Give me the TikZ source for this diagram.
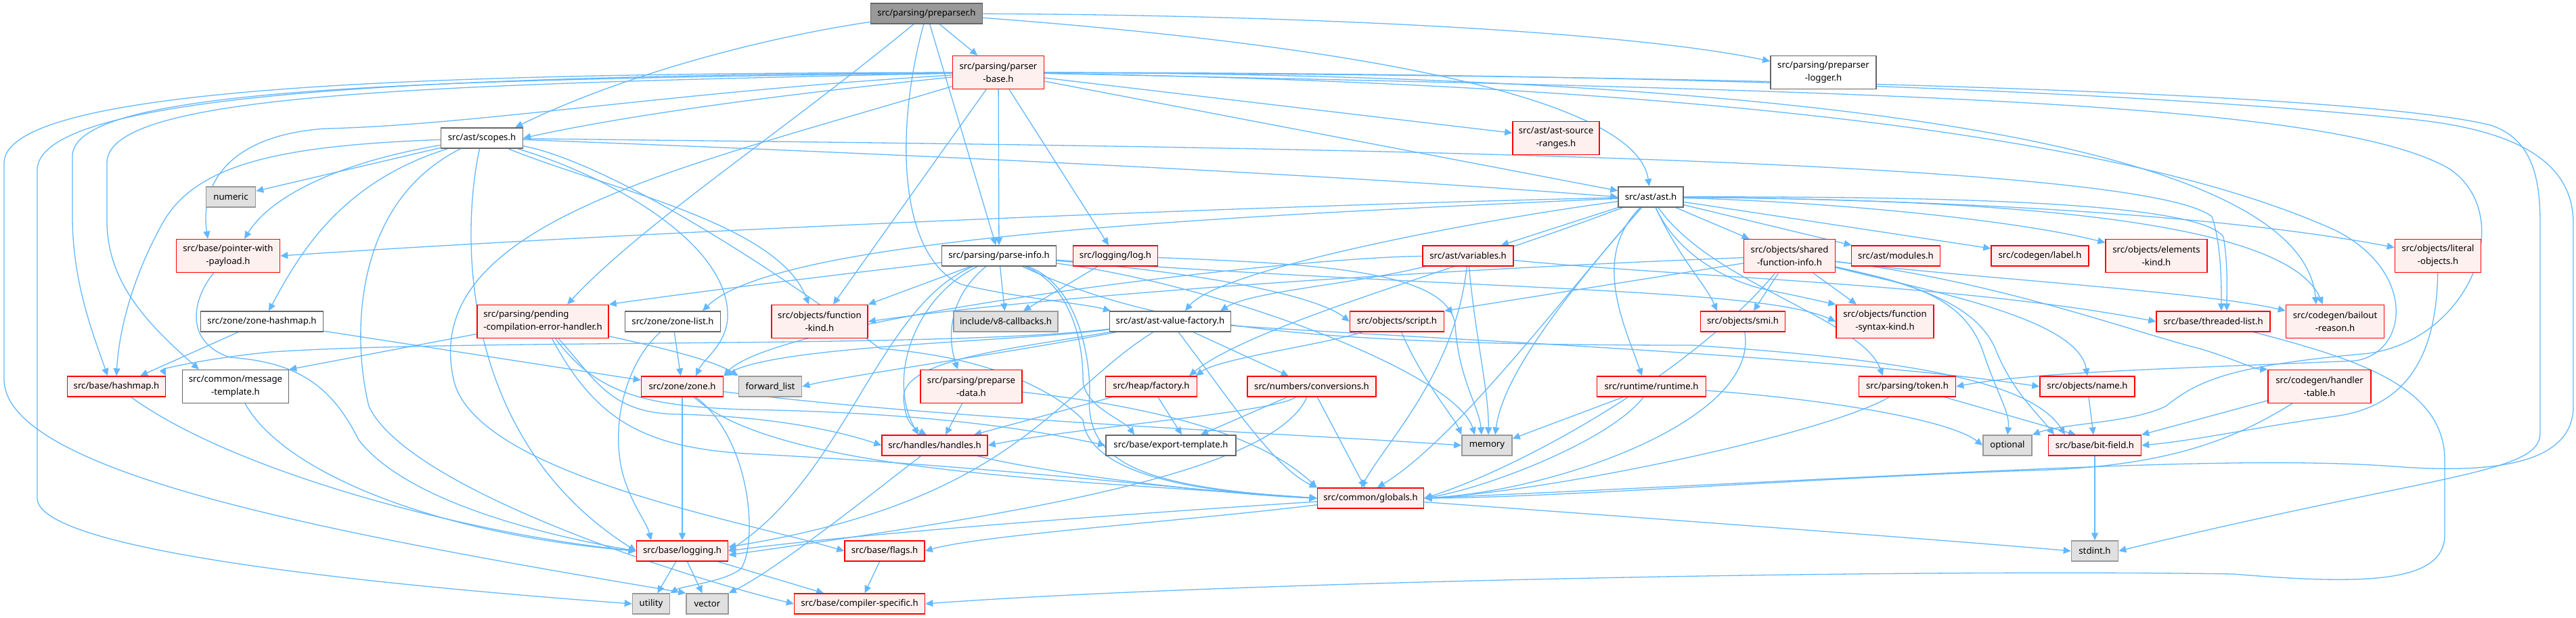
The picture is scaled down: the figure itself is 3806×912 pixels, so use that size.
\documentclass[tikz,border=0pt]{standalone}
\usepackage{fontspec}
\setmainfont{Noto Sans}
\usetikzlibrary{arrows.meta}
\definecolor{edgec}{HTML}{63B8FF}
\definecolor{redb}{HTML}{FF0000}
\definecolor{redf}{HTML}{FFF0F0}
\definecolor{grb}{HTML}{999999}
\definecolor{grf}{HTML}{E0E0E0}
\definecolor{wb}{HTML}{666666}
\pgfdeclarelayer{back}
\pgfdeclarelayer{bg}
\pgfsetlayers{back,bg,main}
\begin{document}
\begin{tikzpicture}[x=0.5pt,y=-0.5pt,
 nd/.style={rectangle, inner sep=0pt, line width=0.75pt, font=\fontsize{6.6pt}{9.5pt}\selectfont, align=center, minimum height=15pt},
 two/.style={minimum height=24.5pt},
 W/.style={minimum width=#1*0.5pt},
 rednode/.style={nd, draw=redb, fill=redf},
 whitenode/.style={nd, draw=wb, fill=white},
 graynode/.style={nd, draw=grb, fill=grf},
 rootnode/.style={nd, draw=wb, fill=grb},
 arr/.style={draw=edgec, line width=0.65pt, -{Triangle[length=5.5pt,width=5pt]}}
]
\useasboundingbox (0,0) rectangle (3806,912);
\begin{pgfonlayer}{back}
\fill[white] (0,0) rectangle (3806,912);
\end{pgfonlayer}

% nodes
\node[rootnode,W=165] (pre) at (1369,20) {src/parsing/preparser.h};
\node[rednode,two,W=135] (pb) at (1475,107) {src/parsing/parser\\-base.h};
\node[whitenode,two,W=156] (plog) at (2694,107) {src/parsing/preparser\\-logger.h};
\node[whitenode,W=121] (scopes) at (712,204) {src/ast/scopes.h};
\node[rednode,two,W=128] (asr) at (2299,204) {src/ast/ast-source\\-ranges.h};
\node[whitenode,W=96] (ast) at (2439,291) {src/ast/ast.h};
\node[graynode,W=73] (numeric) at (341,291) {numeric};
\node[rednode,two,W=153] (pwp) at (337,378) {src/base/pointer-with\\-payload.h};
\node[whitenode,W=169] (pinfo) at (1476,378) {src/parsing/parse-info.h};
\node[rednode,W=125] (log) at (1648,378) {src/logging/log.h};
\node[rednode,W=134] (vars) at (2169,378) {src/ast/variables.h};
\node[rednode,two,W=135] (sfi) at (2644,378) {src/objects/shared\\-function-info.h};
\node[rednode,W=131] (modules) at (2801,378) {src/ast/modules.h};
\node[rednode,W=144] (label) at (3014,378) {src/codegen/label.h};
\node[rednode,two,W=150] (elements) at (3186,378) {src/objects/elements\\-kind.h};
\node[rednode,two,W=127] (literal) at (3602,378) {src/objects/literal\\-objects.h};
\node[whitenode,W=181] (zhm) at (387,475) {src/zone/zone-hashmap.h};
\node[rednode,two,W=194,align=left] (pending) at (802,475) {src/parsing/pending\\-compilation-error-handler.h};
\node[whitenode,W=141] (zlist) at (994,475) {src/zone/zone-list.h};
\node[rednode,two,W=142] (fkind) at (1211,475) {src/objects/function\\-kind.h};
\node[graynode,W=154] (v8cb) at (1486,475) {include/v8-callbacks.h};
\node[whitenode,W=179] (avf) at (1729,475) {src/ast/ast-value-factory.h};
\node[rednode,W=139] (script) at (2064,475) {src/objects/script.h};
\node[rednode,W=125] (smi) at (2575,475) {src/objects/smi.h};
\node[rednode,two,W=144] (fsk) at (2785,475) {src/objects/function\\-syntax-kind.h};
\node[rednode,W=168] (tlist) at (3270,475) {src/base/threaded-list.h};
\node[rednode,two,W=145] (bailout) at (3450,475) {src/codegen/bailout\\-reason.h};
\node[rednode,W=145] (hashmap) at (172,571) {src/base/hashmap.h};
\node[whitenode,two,W=157] (msgt) at (348,571) {src/common/message\\-template.h};
\node[rednode,W=121] (zone) at (1008,571) {src/zone/zone.h};
\node[graynode,W=93] (fwdlist) at (1138,571) {forward\_list};
\node[rednode,two,W=150] (ppd) at (1435,571) {src/parsing/preparse\\-data.h};
\node[rednode,W=135] (factory) at (1701,571) {src/heap/factory.h};
\node[rednode,W=190] (conv) at (1938,571) {src/numbers/conversions.h};
\node[rednode,W=161] (runtime) at (2440,571) {src/runtime/runtime.h};
\node[rednode,W=143] (token) at (2818,571) {src/parsing/token.h};
\node[rednode,W=140] (name) at (3084,571) {src/objects/name.h};
\node[rednode,two,W=152] (htable) at (3427,571) {src/codegen/handler\\-table.h};
\node[rednode,W=156] (handles) at (1381,658) {src/handles/handles.h};
\node[whitenode,W=192] (expt) at (1730,658) {src/base/export-template.h};
\node[graynode,W=74] (memory) at (2197,658) {memory};
\node[graynode,W=72] (optional) at (2966,658) {optional};
\node[rednode,W=137] (bitfield) at (3095,658) {src/base/bit-field.h};
\node[rednode,W=157] (globals) at (2025,736) {src/common/globals.h};
\node[rednode,W=135] (logging) at (1008,814) {src/base/logging.h};
\node[rednode,W=118] (flags) at (1307,814) {src/base/flags.h};
\node[graynode,W=69] (stdint) at (3095,814) {stdint.h};
\node[graynode,W=55] (utility) at (962,892) {utility};
\node[graynode,W=62] (vector) at (1045,892) {vector};
\node[rednode,W=193] (cspec) at (1270,892) {src/base/compiler-specific.h};

\begin{pgfonlayer}{bg}
% preparser.h
\draw[arr] (pre) -- (pb);
\draw[arr] (pre) .. controls (1100,60) and (900,120) .. ([xshift=-6pt]scopes.north east);
\draw[arr] (pre) .. controls (1900,22) and (2400,45) .. (plog);
\draw[arr] (pre) .. controls (2100,75) and (2420,160) .. (ast);
\draw[arr] (pre) .. controls (1150,200) and (950,330) .. ([xshift=18pt]pending.north);
\draw[arr] (pre) -- (pinfo);
\draw[arr] (pre) .. controls (1320,200) and (1330,380) .. (1420,420) .. controls (1500,440) and (1600,448) .. ([xshift=-44pt]avf.north);
% parser-base.h
\draw[arr] (pb) .. controls (1200,135) and (950,165) .. (scopes.east);
\draw[arr] (pb) -- (asr);
\draw[arr] (pb) -- (ast);
\draw[arr] (pb) -- (pinfo);
\draw[arr] (pb) -- (log);
\draw[arr] (pb) -- ([xshift=10pt]fkind.north);
\draw[arr] (pb) .. controls (1000,135) and (700,185) .. (480,190) .. controls (340,200) and (295,270) .. ([xshift=-15pt]pwp.north);
\draw[arr] (pb) .. controls (600,118) and (110,130) .. (107,230) -- (107,320) .. controls (107,420) and (140,500) .. ([xshift=-6.5pt]hashmap.north);
\draw[arr] (pb) .. controls (600,125) and (160,140) .. (158,240) -- (158,330) .. controls (160,420) and (220,480) .. ([xshift=-27pt]msgt.north);
\draw[arr] (pb) .. controls (600,112) and (60,140) .. (55,250) -- (55,737) .. controls (60,810) and (500,860) .. (utility.west);
\draw[arr] (pb) .. controls (600,108) and (10,130) .. (6,240) -- (6,560) .. controls (6,700) and (500,790) .. (vector.north west);
\draw[arr] (pb) .. controls (1000,250) and (620,330) .. (670,560) .. controls (700,700) and (1100,770) .. (flags.west);
\draw[arr] (pb) .. controls (2600,110) and (3400,200) .. ([xshift=-14pt]bailout.north);
\draw[arr] (pb) .. controls (2800,130) and (3250,250) .. (3450,340) .. controls (3570,400) and (3560,520) .. (3480,533) .. controls (3200,545) and (3000,550) .. (token.east);
\draw[arr] (pb) .. controls (2800,135) and (3450,150) .. (3620,250) .. controls (3720,320) and (3650,500) .. (3500,522) .. controls (3300,540) and (3250,560) .. (3200,600) .. controls (3150,625) and (3050,625) .. (optional.north east);
\draw[arr] (pb) .. controls (2700,112) and (3500,140) .. (3680,185) .. controls (3740,205) and (3753,260) .. (3753,330) -- (3753,640) .. controls (3753,700) and (3600,700) .. (stdint.east);
\draw[arr] (pb) .. controls (2700,108) and (3300,150) .. (3550,175) .. controls (3720,190) and (3802,240) .. (3802,330) -- (3802,600) .. controls (3802,680) and (3700,700) .. (3550,690) .. controls (3300,670) and (2900,700) .. (globals.east);
% scopes.h
\draw[arr] (scopes) -- (numeric);
\draw[arr] (scopes) .. controls (1400,230) and (2000,260) .. (ast.west);
\draw[arr] (scopes) .. controls (420,215) and (290,240) .. (240,330) .. controls (190,420) and (175,500) .. (hashmap.north);
\draw[arr] (scopes) .. controls (500,240) and (400,290) .. ([xshift=12pt]pwp.north);
\draw[arr] (scopes) .. controls (500,270) and (440,380) .. ([xshift=5pt]zhm.north);
\draw[arr] (scopes) .. controls (900,280) and (1150,330) .. ([xshift=-8pt]fkind.north);
\draw[arr] (scopes) .. controls (900,260) and (1080,360) .. (1075,470) .. controls (1072,510) and (1040,530) .. ([xshift=10pt]zone.north);
\draw[arr] (scopes) .. controls (900,240) and (1150,400) .. (1300,515) .. controls (1500,530) and (1580,600) .. (1600,620) .. controls (1610,720) and (1850,730) .. (globals.west);
\draw[arr] (scopes) .. controls (1600,215) and (3150,225) .. (3268,320) .. controls (3282,360) and (3282,420) .. ([xshift=6pt]tlist.north);
\draw[arr] (scopes) .. controls (520,300) and (520,500) .. (545,600) .. controls (600,720) and (1000,850) .. (cspec.west);
\draw[arr] (scopes) .. controls (680,350) and (680,650) .. (logging.west);
% ast.h
\draw[arr] (ast) .. controls (1800,305) and (900,345) .. (pwp.east);
\draw[arr] (ast) .. controls (1800,320) and (1150,350) .. ([xshift=22pt]zlist.north);
\draw[arr] (ast) .. controls (2150,330) and (1800,400) .. ([xshift=11pt]avf.north);
\draw[arr] (ast) -- (vars);
\draw[arr] (ast) -- (sfi);
\draw[arr] (ast) -- (modules);
\draw[arr] (ast) -- (label);
\draw[arr] (ast) .. controls (2750,300) and (3000,330) .. (elements);
\draw[arr] (ast) .. controls (2900,295) and (3300,320) .. (literal);
\draw[arr] (ast) .. controls (2900,290) and (3250,300) .. (3285,350) .. controls (3292,390) and (3290,430) .. ([xshift=10pt]tlist.north);
\draw[arr] (ast) .. controls (3000,295) and (3380,330) .. ([xshift=-9pt]bailout.north);
\draw[arr] (ast) .. controls (2480,380) and (2560,420) .. (2620,430) .. controls (2660,438) and (2690,445) .. (fsk.north west);
\draw[arr] (ast) .. controls (2480,380) and (2520,420) .. ([xshift=-19pt]smi.north);
\draw[arr] (ast) .. controls (2350,380) and (2400,480) .. ([xshift=-7pt]runtime.north);
\draw[arr] (ast) .. controls (2530,420) and (2750,470) .. ([xshift=-18pt]token.north);
\draw[arr] (ast) .. controls (2300,450) and (2150,650) .. ([xshift=5pt]globals.north);
\draw[arr] (ast) .. controls (2300,450) and (2220,560) .. ([xshift=6pt]memory.north);
\draw[arr] (ast) .. controls (2150,400) and (1850,480) .. ([xshift=28pt]factory.north);
% variables.h
\draw[arr] (vars) .. controls (2000,420) and (1850,430) .. ([xshift=37pt]avf.north);
\draw[arr] (vars) .. controls (2150,550) and (2050,650) .. ([xshift=-7pt]globals.north);
\draw[arr] (vars) .. controls (1900,380) and (1150,470) .. (zone.north east);
\draw[arr] (vars) .. controls (2500,410) and (2900,420) .. (tlist.west);
\draw[arr] (vars) .. controls (2180,500) and (2200,580) .. ([xshift=1pt]memory.north);
% parse-info.h
\draw[arr] (pinfo) -- (v8cb);
\draw[arr] (pinfo) -- (fkind.north east);
\draw[arr] (pinfo) .. controls (1200,410) and (1000,435) .. (pending.north east);
\draw[arr] (pinfo) .. controls (1400,440) and (1400,500) .. ([xshift=-10pt]ppd.north);
\draw[arr] (pinfo) .. controls (1350,440) and (1310,560) .. ([xshift=-12pt]handles.north);
\draw[arr] (pinfo) .. controls (1800,405) and (1950,440) .. (script.west);
\draw[arr] (pinfo) .. controls (2200,430) and (2600,425) .. (fsk.west);
\draw[arr] (pinfo) .. controls (1700,480) and (1900,510) .. (2500,510) .. controls (2800,530) and (3000,560) .. ([xshift=-22pt]bitfield.north);
\draw[arr] (pinfo) .. controls (1580,420) and (1600,500) .. (1600,560) .. controls (1600,600) and (1660,620) .. ([xshift=-27pt]expt.north);
\draw[arr] (pinfo) .. controls (1300,450) and (1250,700) .. (logging.east);
\draw[arr] (pinfo) .. controls (1590,420) and (1610,520) .. (1610,580) .. controls (1600,690) and (1700,720) .. (globals.west);
\draw[arr] (pinfo) .. controls (1800,420) and (2150,550) .. ([xshift=-9pt]memory.north);
% log.h
\draw[arr] (log) -- ([xshift=13pt]v8cb.north);
\draw[arr] (log) .. controls (1950,390) and (2140,400) .. (2150,480) .. controls (2155,560) and (2185,600) .. ([xshift=-4pt]memory.north);
% pending
\draw[arr] (pending) -- (msgt.north east);
\draw[arr] (pending) .. controls (960,510) and (1050,530) .. (fwdlist.north west);
\draw[arr] (pending) .. controls (880,560) and (900,610) .. (1000,612) .. controls (1150,615) and (1250,640) .. (handles.west);
\draw[arr] (pending) .. controls (880,580) and (950,600) .. (1100,605) .. controls (1400,610) and (1550,640) .. (expt.west);
\draw[arr] (pending) .. controls (880,620) and (950,660) .. (1100,670) .. controls (1500,690) and (1800,730) .. (globals.west);
% zone-hashmap, zone-list
\draw[arr] (zhm) -- (hashmap);
\draw[arr] (zhm) -- (zone);
\draw[arr] (zlist) -- (zone);
\draw[arr] (zlist) .. controls (930,530) and (900,620) .. (920,700) .. controls (935,750) and (955,770) .. ([xshift=-23pt]logging.north);
% zone.h
\draw[arr] (zone) -- (logging);
\draw[arr] (zone) .. controls (1110,650) and (1120,800) .. (1095,840) .. controls (1070,860) and (1010,865) .. (utility.north east);
\draw[arr] (zone) .. controls (1400,620) and (1900,640) .. (memory.west);
\draw[arr] (zone) .. controls (1150,700) and (1600,710) .. (globals.west);
% hashmap, pointer-with-payload, message-template
\draw[arr] (hashmap) .. controls (350,700) and (700,790) .. (logging.west);
\draw[arr] (pwp) .. controls (285,440) and (270,505) .. (340,528) .. controls (440,535) and (490,570) .. (530,650) .. controls (600,740) and (800,790) .. (logging.west);
\draw[arr] (msgt) .. controls (420,700) and (650,790) .. (logging.west);
% ast-value-factory.h
\draw[arr] (avf) .. controls (1500,520) and (1250,555) .. (fwdlist.east);
\draw[arr] (avf) .. controls (1500,505) and (1150,510) .. (zone.north east);
\draw[arr] (avf) .. controls (1400,515) and (700,500) .. (400,520) .. controls (300,530) and (240,545) .. (hashmap.north east);
\draw[arr] (avf) .. controls (1560,580) and (1500,740) .. ([yshift=3pt]logging.east);
\draw[arr] (avf) .. controls (1810,580) and (1880,690) .. (globals.north west);
\draw[arr] (avf) -- (conv);
\draw[arr] (avf) .. controls (2100,500) and (2700,525) .. (name.west);
\draw[arr] (avf) .. controls (1500,515) and (1330,530) .. (1335,590) .. controls (1338,620) and (1345,630) .. ([xshift=-6pt]handles.north);
% preparse-data, factory, conversions
\draw[arr] (ppd) -- ([xshift=8pt]handles.north);
\draw[arr] (ppd) .. controls (1700,600) and (1860,640) .. (globals.north west);
\draw[arr] (factory) -- ([xshift=29pt]handles.north);
\draw[arr] (factory) -- ([xshift=8pt]expt.north);
\draw[arr] (conv) .. controls (1880,610) and (1600,630) .. (handles.east);
\draw[arr] (conv) -- ([xshift=22pt]expt.north);
\draw[arr] (conv) -- (globals);
\draw[arr] (conv) .. controls (1880,700) and (1500,760) .. ([yshift=-3pt]logging.east);
% handles
\draw[arr] (handles) .. controls (1300,720) and (1150,840) .. (vector.north east);
\draw[arr] (handles) .. controls (1550,700) and (1800,730) .. (globals.west);
% script
\draw[arr] (script) .. controls (1950,510) and (1800,530) .. ([xshift=33pt]factory.north);
\draw[arr] (script) .. controls (2100,560) and (2150,620) .. (memory.north west);
% shared-function-info
\draw[arr] (sfi) -- (script.north east);
\draw[arr] (sfi) -- ([xshift=-21pt]fsk.north);
\draw[arr] (sfi) -- ([xshift=8pt]smi.north);
\draw[arr] (sfi) .. controls (2200,395) and (1600,430) .. (fkind.east);
\draw[arr] (sfi) .. controls (2900,410) and (3250,430) .. ([yshift=8pt]bailout.west);
\draw[arr] (sfi) .. controls (2850,430) and (3070,470) .. (name.north);
\draw[arr] (sfi) .. controls (2950,415) and (3150,490) .. (3250,515) .. controls (3300,530) and (3330,545) .. (htable.north west);
\draw[arr] (sfi) .. controls (2800,415) and (2900,430) .. (2930,520) .. controls (2950,580) and (2970,610) .. (optional.north);
\draw[arr] (sfi) .. controls (2800,415) and (2920,440) .. (2950,520) .. controls (2975,580) and (3010,610) .. ([xshift=-30pt]bitfield.north);
\draw[arr] (sfi) .. controls (2500,550) and (2250,690) .. (globals.east);
% smi, runtime, token, name, handler-table, literal-objects
\draw[arr] (smi) .. controls (2600,620) and (2300,725) .. (globals.east);
\draw[arr] (runtime) -- ([yshift=5pt]memory.east);
\draw[arr] (runtime) .. controls (2380,650) and (2200,720) .. (globals.east);
\draw[arr] (runtime) .. controls (2700,590) and (2880,620) .. (optional.west);
\draw[arr] (token) -- ([xshift=-14pt]bitfield.north);
\draw[arr] (token) .. controls (2700,640) and (2300,725) .. (globals.east);
\draw[arr] (name) -- (bitfield);
\draw[arr] (htable) -- (bitfield.north east);
\draw[arr] (htable) .. controls (3300,650) and (3200,690) .. (3000,695) .. controls (2700,705) and (2300,735) .. (globals.east);
\draw[arr] (literal) .. controls (3600,520) and (3560,600) .. (3450,615) .. controls (3350,628) and (3250,650) .. (bitfield.east);
% threaded-list
\draw[arr] (tlist) .. controls (3480,530) and (3612,570) .. (3612,680) -- (3612,790) .. controls (3612,860) and (3500,865) .. (3300,848) .. controls (2800,840) and (1800,860) .. (cspec.east);
% globals, logging, flags, bit-field
\draw[arr] (globals) .. controls (1750,770) and (1450,790) .. (flags.east);
\draw[arr] (globals) .. controls (1650,760) and (1250,790) .. (logging.east);
\draw[arr] (globals) .. controls (2500,770) and (2900,800) .. (stdint.west);
\draw[arr] (logging) -- (utility);
\draw[arr] (logging) -- (vector);
\draw[arr] (logging) -- (cspec);
\draw[arr] (flags) -- (cspec);
\draw[arr] (bitfield) -- (stdint);
\end{pgfonlayer}
\end{tikzpicture}
\end{document}
